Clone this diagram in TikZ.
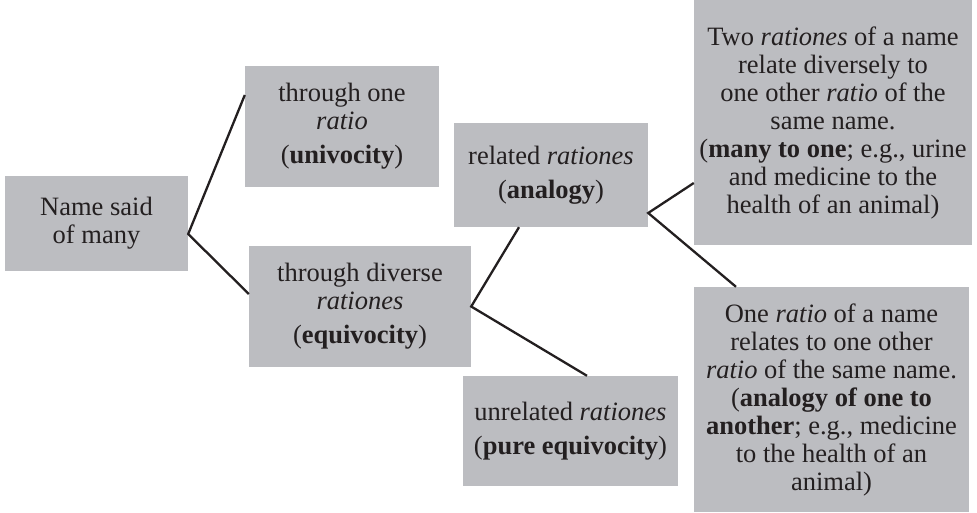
\documentclass[tikz,border=0pt]{standalone}
\usepackage{fontspec}
\setmainfont{Liberation Serif}
\definecolor{boxgray}{RGB}{188,189,193}
\definecolor{inkdark}{RGB}{35,31,32}
\begin{document}
\begin{tikzpicture}[x=1pt,y=-1pt,
  box/.style={fill=boxgray, inner sep=0pt, align=center, text=inkdark,
    font=\fontsize{26.5}{28}\selectfont},
  link/.style={draw=inkdark, line width=2.3pt}]
\useasboundingbox (0,0) rectangle (977,513);
\node[box, minimum width=183pt, minimum height=95pt] (b1) at (96.5,223.5)
  {Name said\\of many};
\node[box, minimum width=194pt, minimum height=121pt] (b2) at (342,126.5)
  {through one\\\textit{ratio}\\[6pt](\textbf{univocity})};
\node[box, minimum width=222pt, minimum height=121pt] (b3) at (360,306.5)
  {through diverse\\\textit{rationes}\\[6pt](\textbf{equivocity})};
\node[box, minimum width=194pt, minimum height=104pt] (b4) at (551,175)
  {related \textit{rationes}\\[6pt](\textbf{analogy})};
\node[box, minimum width=215pt, minimum height=110pt] (b7) at (570.5,431)
  {unrelated \textit{rationes}\\[6pt](\textbf{pure equivocity})};
\node[box, minimum width=278pt, minimum height=245pt] (b5) at (833,122.5)
  {Two \textit{rationes} of a name\\relate diversely to\\one other \textit{ratio} of the\\same name.\\(\textbf{many to one}; e.g., urine\\and medicine to the\\health of an animal)};
\node[box, minimum width=275pt, minimum height=225pt] (b6) at (831.5,399.5)
  {One \textit{ratio} of a name\\relates to one other\\\textit{ratio} of the same name.\\(\textbf{analogy of one to}\\\textbf{another}; e.g., medicine\\to the health of an\\animal)};
\draw[link] ([yshift=31.5pt]b2.west) -- ([yshift=-10.5pt]b1.east) -- ([yshift=12.5pt]b3.west);
\draw[link] ([xshift=-32pt]b4.south) -- (b3.east) -- ([xshift=16.5pt]b7.north);
\draw[link] ([yshift=-60.5pt]b5.west) -- ([yshift=-38pt]b4.east) -- ([xshift=-95.5pt]b6.north);
\end{tikzpicture}
\end{document}
